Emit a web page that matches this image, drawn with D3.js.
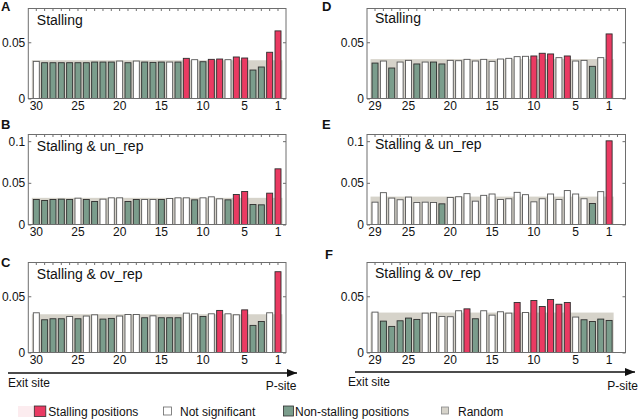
<!DOCTYPE html>
<html><head><meta charset="utf-8">
<script src="https://cdn.jsdelivr.net/npm/d3@7"></script>
<style>
html,body{margin:0;padding:0;background:#fff;}
svg{display:block;font-family:"Liberation Sans",Arial,sans-serif;}
</style></head>
<body>
<svg id="chart" width="640" height="419"></svg>
<script>
// ---------- data ----------
const posLeft  = [30,29,28,27,26,25,24,23,22,21,20,19,18,17,16,15,14,13,12,11,10,9,8,7,6,5,4,3,2,1];
const posRight = [29,28,27,26,25,24,23,22,21,20,19,18,17,16,15,14,13,12,11,10,9,8,7,6,5,4,3,2,1];
const ticksLeft  = [30,25,20,15,10,5,1];
const ticksRight = [29,25,20,15,10,5,1];
const yTicksSmall = [0,0.05];
const yTicksLarge = [0,0.05,0.1];

// s = stalling position, n = not significant, g = non-stalling position
const valA = [0.0330,0.0318,0.0318,0.0318,0.0318,0.0318,0.0318,0.0324,0.0324,0.0324,0.0333,0.0318,0.0333,0.0324,0.0321,0.0324,0.0324,0.0324,0.0357,0.0345,0.0327,0.0348,0.0351,0.0345,0.0369,0.0360,0.0253,0.0280,0.0411,0.0601];
const clsA = ["n","g","g","g","g","g","g","g","g","g","n","g","n","g","g","g","n","g","s","n","g","s","s","n","s","s","g","g","s","s"];
const valB = [0.0300,0.0288,0.0300,0.0304,0.0300,0.0316,0.0300,0.0276,0.0304,0.0320,0.0320,0.0276,0.0300,0.0300,0.0300,0.0300,0.0312,0.0320,0.0320,0.0296,0.0320,0.0332,0.0308,0.0296,0.0360,0.0396,0.0240,0.0236,0.0376,0.0668];
const clsB = ["g","g","g","g","g","n","g","g","n","n","n","g","g","n","n","g","n","n","n","g","n","n","n","g","s","s","g","g","s","s"];
const valC = [0.0353,0.0291,0.0300,0.0300,0.0320,0.0300,0.0324,0.0335,0.0297,0.0303,0.0324,0.0338,0.0338,0.0309,0.0326,0.0309,0.0309,0.0309,0.0350,0.0344,0.0320,0.0344,0.0374,0.0344,0.0335,0.0379,0.0241,0.0276,0.0353,0.0718];
const clsC = ["n","g","g","g","n","g","n","n","g","g","n","n","n","g","n","g","g","g","n","n","g","n","s","n","n","s","g","g","n","s"];
const valD = [0.0315,0.0333,0.0271,0.0324,0.0339,0.0307,0.0324,0.0324,0.0307,0.0339,0.0336,0.0348,0.0333,0.0348,0.0330,0.0351,0.0357,0.0372,0.0375,0.0378,0.0402,0.0396,0.0363,0.0378,0.0333,0.0339,0.0286,0.0363,0.0574];
const clsD = ["g","n","g","n","n","g","n","g","g","n","n","n","n","n","n","n","n","n","n","s","s","s","n","s","n","n","g","n","s"];
const valE = [0.0268,0.0382,0.0317,0.0297,0.0329,0.0264,0.0268,0.0264,0.0248,0.0325,0.0333,0.0370,0.0280,0.0350,0.0366,0.0300,0.0309,0.0386,0.0358,0.0272,0.0309,0.0366,0.0300,0.0407,0.0366,0.0309,0.0252,0.0394,0.1004];
const clsE = ["n","n","n","n","n","n","n","n","g","n","n","n","n","n","n","n","n","n","n","n","n","n","n","n","n","n","g","n","s"];
const valF = [0.0359,0.0279,0.0232,0.0282,0.0306,0.0294,0.0350,0.0353,0.0320,0.0318,0.0371,0.0388,0.0300,0.0371,0.0332,0.0362,0.0350,0.0444,0.0356,0.0462,0.0409,0.0471,0.0429,0.0444,0.0315,0.0291,0.0276,0.0297,0.0285];
const clsF = ["n","g","g","g","g","g","n","n","n","n","n","s","g","n","n","n","n","s","n","s","s","s","s","s","n","g","g","g","g"];

const randomLevels = {A:0.034, B:0.032, C:0.034, D:0.035, E:0.0335, F:0.0355};
const titles = {A:"Stalling", B:"Stalling & un_rep", C:"Stalling & ov_rep", D:"Stalling", E:"Stalling & un_rep", F:"Stalling & ov_rep"};
const legendLabels = ["Stalling positions","Not significant","Non-stalling positions","Random"];

// ---------- style ----------
const COL = {s:"#ea3a62", n:"#ffffff", g:"#7b9d8c"};
const RANDOM_COL = "#d6d3ca";
const FRAME_COL = "#6e6e6e";

const svg = d3.select("#chart");

const panels = [
  {id:"A", pos:posLeft,  slots:[...posLeft],      vals:valA, cls:clsA, ticks:ticksLeft,  x0:28.3, x1:286,   y0:8.5,   y1:98.5,  ymax:0.08,  yt:yTicksSmall, lx:1,   ly:11,   ty:25},
  {id:"B", pos:posLeft,  slots:[...posLeft],      vals:valB, cls:clsB, ticks:ticksLeft,  x0:28.3, x1:286,   y0:134.5, y1:224.5, ymax:0.108, yt:yTicksLarge, lx:1,   ly:129,  ty:151},
  {id:"C", pos:posLeft,  slots:[...posLeft],      vals:valC, cls:clsC, ticks:ticksLeft,  x0:28.3, x1:286,   y0:262.5, y1:352.5, ymax:0.08,  yt:yTicksSmall, lx:1,   ly:267,  ty:279},
  {id:"D", pos:posRight, slots:[...posRight, 0],  vals:valD, cls:clsD, ticks:ticksRight, x0:367,  x1:625.5, y0:8.5,   y1:98.5,  ymax:0.08,  yt:yTicksSmall, lx:322, ly:11,   ty:23},
  {id:"E", pos:posRight, slots:[...posRight, 0],  vals:valE, cls:clsE, ticks:ticksRight, x0:367,  x1:625.5, y0:134.5, y1:224.5, ymax:0.108, yt:yTicksLarge, lx:322, ly:129,  ty:149},
  {id:"F", pos:posRight, slots:[...posRight, 0],  vals:valF, cls:clsF, ticks:ticksRight, x0:367,  x1:625.5, y0:262.5, y1:352.5, ymax:0.08,  yt:yTicksSmall, lx:325, ly:258.5,ty:278}
];

const fmt = d => d === 0 ? "0" : String(+d.toFixed(2));

panels.forEach(p => {
  const g = svg.append("g");
  const x = d3.scaleBand().domain(p.slots).range([p.x0, p.x1]).paddingInner(0.28).paddingOuter(0.6);
  const y = d3.scaleLinear().domain([0, p.ymax]).range([p.y1, p.y0]);
  const bw = x.bandwidth();
  const data = p.pos.map((k,i) => ({k, v:p.vals[i], c:p.cls[i]}));

  // random background band
  const first = p.pos[0], last = p.pos[p.pos.length-1];
  g.append("rect")
    .attr("x", x(first) - 1.5)
    .attr("width", x(last) + bw + 1.5 - (x(first) - 1.5))
    .attr("y", y(randomLevels[p.id]))
    .attr("height", y(0) - y(randomLevels[p.id]))
    .attr("fill", RANDOM_COL);

  // bars
  g.selectAll("rect.bar").data(data).join("rect")
    .attr("class","bar")
    .attr("x", d => x(d.k))
    .attr("width", bw)
    .attr("y", d => y(d.v))
    .attr("height", d => y(0) - y(d.v))
    .attr("fill", d => COL[d.c])
    .attr("stroke", d => d.c === "n" ? "#555" : "#2e2e2e")
    .attr("stroke-width", 0.9);

  // frame
  g.append("rect")
    .attr("x", p.x0).attr("y", p.y0)
    .attr("width", p.x1 - p.x0).attr("height", p.y1 - p.y0)
    .attr("fill","none").attr("stroke", FRAME_COL).attr("stroke-width", 1);

  const ax = g.append("g").attr("transform", `translate(${p.x0},0)`)
    .call(d3.axisLeft(y).tickValues(p.yt).tickFormat(fmt).tickSizeInner(-3).tickSizeOuter(0).tickPadding(3));
  const ar = g.append("g").attr("transform", `translate(${p.x1},0)`)
    .call(d3.axisRight(y).tickValues(p.yt).tickFormat("").tickSizeInner(-3).tickSizeOuter(0));
  const at = g.append("g").attr("transform", `translate(0,${p.y0})`)
    .call(d3.axisTop(x).tickFormat("").tickSizeInner(-2.5).tickSizeOuter(0));
  const ab = g.append("g").attr("transform", `translate(0,${p.y1})`)
    .call(d3.axisBottom(x).tickValues(p.ticks).tickSizeInner(0).tickSizeOuter(0).tickPadding(3));

  [ax, ar, at, ab].forEach(a => {
    a.select(".domain").remove();
    a.selectAll("line").attr("stroke", FRAME_COL);
    a.selectAll("text").attr("font-size", 12).attr("fill", "#111")
      .attr("font-family", '"Liberation Sans", Arial, sans-serif');
  });

  svg.append("text").attr("x", p.lx).attr("y", p.ly).text(p.id)
    .attr("font-size", 13).attr("font-weight", "bold").attr("fill", "#111");
  svg.append("text").attr("x", p.x0 + (p.id < "D" ? 8.5 : 8)).attr("y", p.ty).text(titles[p.id])
    .attr("font-size", 14).attr("fill", "#111");
});

// arrows under bottom row
svg.append("defs").append("marker")
  .attr("id","ah").attr("viewBox","0 0 10 8").attr("refX",10).attr("refY",4)
  .attr("markerWidth",10).attr("markerHeight",8).attr("markerUnits","userSpaceOnUse").attr("orient","auto")
  .append("path").attr("d","M0,0 L10,4 L0,8 Z").attr("fill","#111");

const arrows = [
  {xa:8,   xb:297, y:373, ex:8,   ey:387, px:296.5, py:390},
  {xa:355, xb:635, y:372, ex:348, ey:385.5, px:638, py:389.5}
];
arrows.forEach(a => {
  svg.append("line").attr("x1",a.xa).attr("x2",a.xb).attr("y1",a.y).attr("y2",a.y)
    .attr("stroke","#111").attr("stroke-width",1.3).attr("marker-end","url(#ah)");
  svg.append("text").attr("x",a.ex).attr("y",a.ey).text("Exit site").attr("font-size",12).attr("fill","#111");
  svg.append("text").attr("x",a.px).attr("y",a.py).text("P-site").attr("font-size",12).attr("fill","#111").attr("text-anchor","end");
});

// legend
const leg = svg.append("g");
leg.append("rect").attr("x",18).attr("y",406).attr("width",16).attr("height",11).attr("fill","#fcecef");
const legItems = [
  {x:34.3, w:11.5, h:10.5, y:406, fill:COL.s, stroke:"#2e2e2e", tx:48.3},
  {x:163.5, w:8, h:8, y:407, fill:COL.n, stroke:"#666", tx:180},
  {x:283.5, w:10, h:10, y:406, fill:COL.g, stroke:"#2e2e2e", tx:295},
  {x:441.5, w:7, h:7, y:407, fill:RANDOM_COL, stroke:"#888", tx:458}
];
legItems.forEach((it,i) => {
  leg.append("rect").attr("x",it.x).attr("y",it.y).attr("width",it.w).attr("height",it.h)
    .attr("fill",it.fill).attr("stroke",it.stroke).attr("stroke-width",0.8);
  leg.append("text").attr("x",it.tx).attr("y",415.5).text(legendLabels[i]).attr("font-size",12).attr("fill","#111");
});
</script>
</body></html>
